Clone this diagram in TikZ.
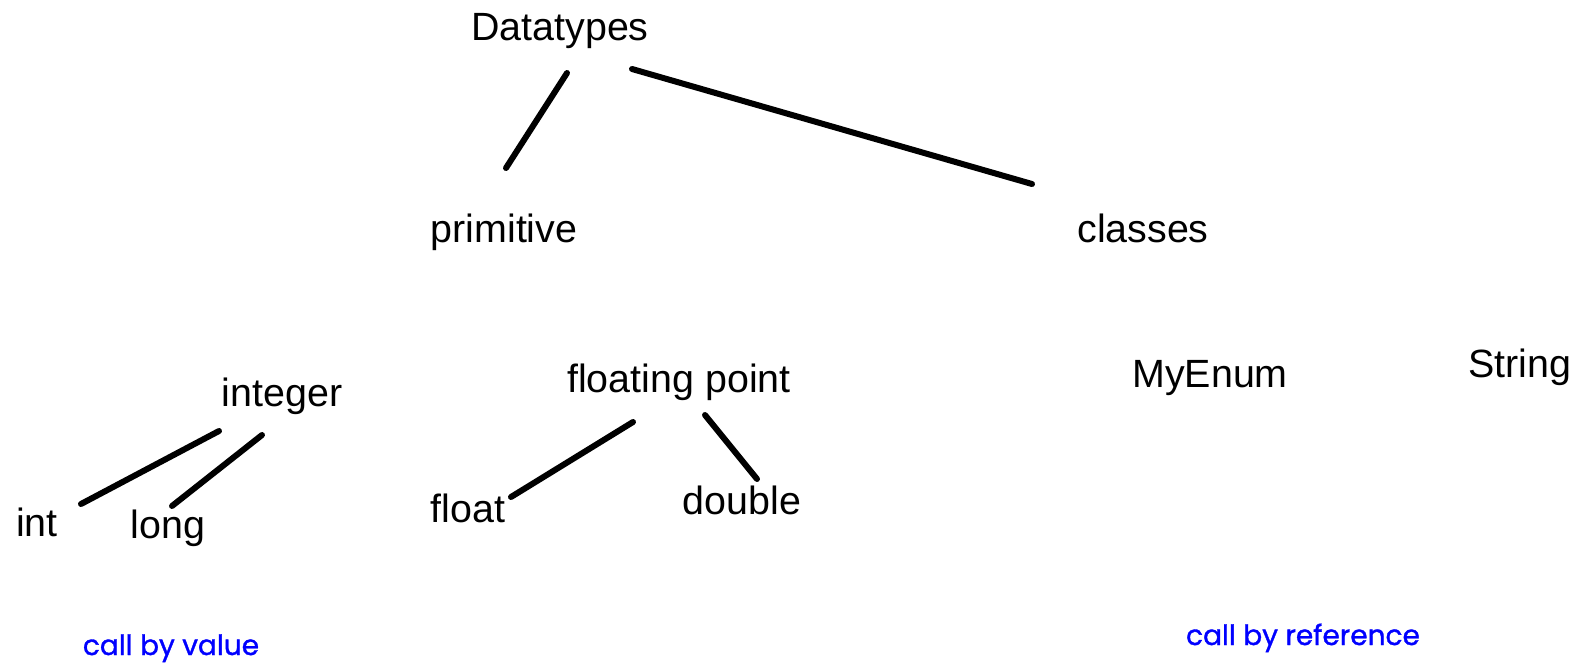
\documentclass[tikz,border=0pt]{standalone}
\usepackage{fontspec}
\setmainfont{Liberation Sans}
\newfontfamily\handfont[FakeBold=1.2]{Poppins}
\begin{document}
\begin{tikzpicture}[x=0.5pt,y=-0.5pt,
  lbl/.style={anchor=base,inner sep=0pt,font=\fontsize{19.7pt}{23pt}\selectfont},
  note/.style={anchor=base,inner sep=0pt,text=blue,font=\handfont\fontsize{14pt}{17pt}\selectfont},
  edge/.style={line width=3pt,line cap=round}]
\useasboundingbox (0,0) rectangle (1584,669);
\node[lbl] (dt) at (560,40) {Datatypes};
\node[lbl] (prim) at (504,242) {primitive};
\node[lbl] (cls) at (1143,242) {classes};
\node[lbl] (integer) at (282,406) {integer};
\node[lbl] (fp) at (679,392) {floating point};
\node[lbl] (myenum) at (1210,387) {MyEnum};
\node[lbl] (string) at (1520,377) {String};
\node[lbl] (int) at (37,536) {int};
\node[lbl] (long) at (168,538) {long};
\node[lbl] (float) at (468,522) {float};
\node[lbl] (double) at (742,514) {double};
\node[note] (cbv) at (171,655) {call by value};
\node[note] (cbr) at (1303,645) {call by reference};
\coordinate (dtA) at (567,73);
\coordinate (primA) at (506,168);
\coordinate (dtB) at (632,69);
\coordinate (clsA) at (1032,184);
\coordinate (integerA) at (219,431);
\coordinate (intA) at (81,504);
\coordinate (integerB) at (262,435);
\coordinate (longA) at (172,506);
\coordinate (fpA) at (633,422);
\coordinate (floatA) at (511,497);
\coordinate (fpB) at (705,415);
\coordinate (doubleA) at (757,479);
\draw[edge] (dtA) -- (primA);
\draw[edge] (dtB) -- (clsA);
\draw[edge] (integerA) -- (intA);
\draw[edge] (integerB) -- (longA);
\draw[edge] (fpA) -- (floatA);
\draw[edge] (fpB) -- (doubleA);
\end{tikzpicture}
\end{document}
